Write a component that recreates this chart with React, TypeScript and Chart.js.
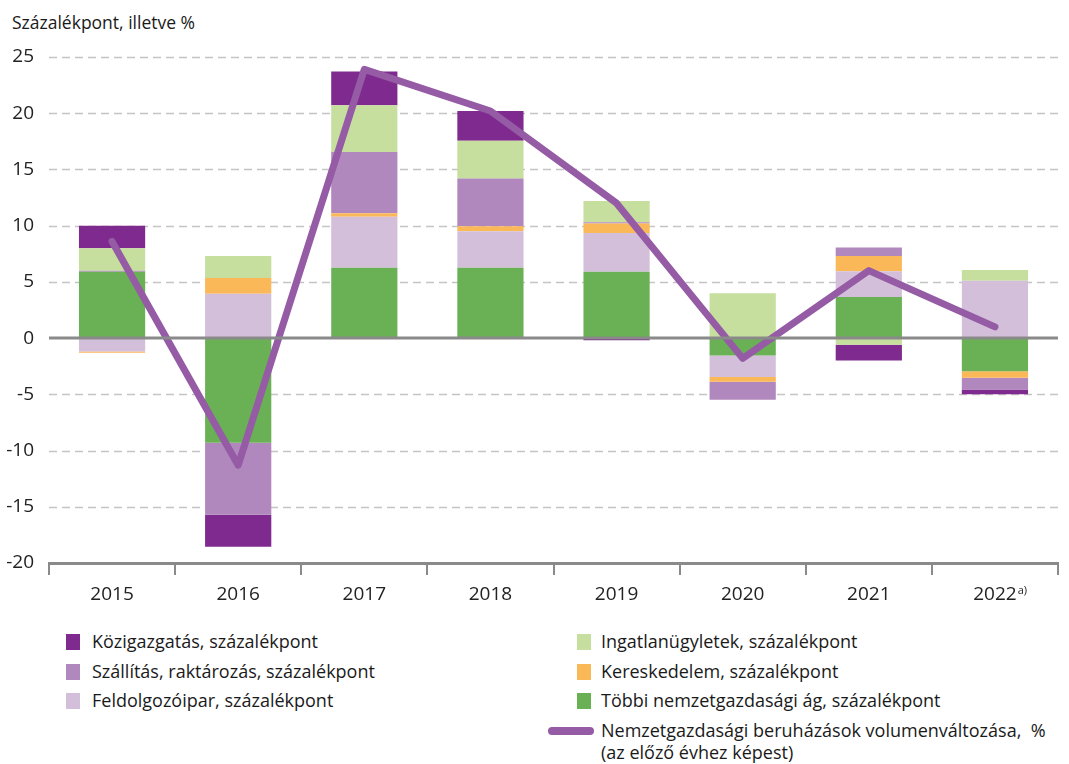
import React, { useEffect, useRef } from "react";
import { Chart, registerables } from "chart.js";
Chart.register(...registerables);

const categories = ["2015", "2016", "2017", "2018", "2019", "2020", "2021", "2022"];
const tobbi = [5.9, -9.3, 6.25, 6.25, 5.9, -1.55, 3.65, -2.95];
const feldolgozo = [-1.2, 3.95, 4.55, 3.25, 3.45, -1.9, 2.3, 5.1];
const kereskedelem = [-0.1, 1.4, 0.3, 0.45, 0.85, -0.43, 1.35, -0.57];
const szallitas = [0.1, -6.4, 5.45, 4.25, 0.1, -1.6, 0.75, -1.06];
const ingatlan = [2.0, 1.95, 4.15, 3.35, 1.9, 4.0, -0.6, 0.95];
const kozig = [2.0, -2.85, 3.0, 2.65, -0.2, 0, -1.4, -0.42];
const volumen = [8.6, -11.3, 23.9, 20.2, 12.0, -1.8, 6.0, 1.0];
const yTicks = [25, 20, 15, 10, 5, 0, -5, -10, -15, -20];

const FONT = "'Open Sans', 'Noto Sans', sans-serif";
const C_KOZIG = "#7f2a8e";
const C_SZALL = "#b088bd";
const C_FELD = "#d4bfdb";
const C_INGAT = "#c6df9e";
const C_KER = "#fbb858";
const C_TOBBI = "#6ab155";
const C_LINE = "#955ba5";
const TICK_SIZE = 19;

const gridPlugin = {
  id: "customGrid",
  beforeDatasetsDraw(chart: any) {
    const { ctx, chartArea, scales } = chart;
    const y = scales.y;
    ctx.save();
    yTicks.forEach((v) => {
      const py = Math.round(y.getPixelForValue(v)) + 0.5;
      if (v === 0 || v === -20) return;
      ctx.strokeStyle = "#c4c4c4";
      ctx.lineWidth = 1.3;
      ctx.setLineDash([8, 5]);
      ctx.beginPath();
      ctx.moveTo(chartArea.left, py);
      ctx.lineTo(chartArea.right, py);
      ctx.stroke();
    });
    ctx.restore();
  },
  afterDatasetsDraw(chart: any) {
    const { ctx, chartArea, scales } = chart;
    const y = scales.y;
    ctx.save();
    const py = y.getPixelForValue(0);
    ctx.strokeStyle = "#8a8a8a";
    ctx.lineWidth = 3;
    ctx.setLineDash([]);
    ctx.beginPath();
    ctx.moveTo(chartArea.left, py);
    ctx.lineTo(chartArea.right, py);
    ctx.stroke();
    ctx.restore();
  },
  afterDraw(chart: any) {
    const { ctx, scales } = chart;
    const x = scales.x;
    const idx = categories.length - 1;
    const cx = x.getPixelForValue(idx);
    ctx.save();
    ctx.font = `${TICK_SIZE}px ${FONT}`;
    const w = ctx.measureText(categories[idx]).width;
    ctx.font = `11px ${FONT}`;
    ctx.fillStyle = "#222";
    ctx.textBaseline = "alphabetic";
    ctx.textAlign = "left";
    ctx.fillText("a)", cx + w / 2 + 1, 594);
    ctx.restore();
  },
};

export default function App() {
  const ref = useRef<HTMLCanvasElement>(null);
  useEffect(() => {
    if (!ref.current) return;
    const mkBar = (label: string, data: number[], color: string) => ({
      type: "bar" as const,
      label,
      data,
      backgroundColor: color,
      borderWidth: 0,
      stack: "s",
      order: 1,
      barPercentage: 0.525,
      categoryPercentage: 1,
    });
    const chart = new Chart(ref.current, {
      type: "bar",
      data: {
        labels: categories,
        datasets: [
          {
            type: "line" as const,
            label: "Nemzetgazdasági beruházások volumenváltozása, %",
            data: volumen,
            borderColor: C_LINE,
            borderWidth: 7,
            pointRadius: 0,
            tension: 0,
            borderJoinStyle: "round",
            borderCapStyle: "round",
            order: 0,
          } as any,
          mkBar("Többi nemzetgazdasági ág, százalékpont", tobbi, C_TOBBI),
          mkBar("Feldolgozóipar, százalékpont", feldolgozo, C_FELD),
          mkBar("Kereskedelem, százalékpont", kereskedelem, C_KER),
          mkBar("Szállítás, raktározás, százalékpont", szallitas, C_SZALL),
          mkBar("Ingatlanügyletek, százalékpont", ingatlan, C_INGAT),
          mkBar("Közigazgatás, százalékpont", kozig, C_KOZIG),
        ],
      },
      options: {
        animation: false,
        responsive: false,
        maintainAspectRatio: false,
        layout: { padding: { top: 57, right: 11, bottom: 7, left: 0 } },
        plugins: { legend: { display: false }, tooltip: { enabled: false } },
        scales: {
          x: {
            stacked: true,
            grid: {
              offset: true,
              drawOnChartArea: false,
              drawTicks: true,
              tickLength: 12,
              color: "#8a8a8a",
              lineWidth: 2,
            },
            border: { display: true, color: "#8a8a8a", width: 3 },
            ticks: {
              color: "#222",
              font: { family: FONT, size: TICK_SIZE },
              padding: 8,
              maxRotation: 0,
            },
            afterFit: (s: any) => {
              s.height = 50;
            },
          },
          y: {
            stacked: true,
            min: -20,
            max: 25,
            grid: { display: false, drawTicks: false },
            border: { display: false },
            ticks: {
              stepSize: 5,
              color: "#222",
              font: { family: FONT, size: TICK_SIZE },
              padding: 15,
            },
            afterFit: (s: any) => {
              s.width = 49;
            },
          },
        },
      },
      plugins: [gridPlugin],
    });
    return () => chart.destroy();
  }, []);

  const text: React.CSSProperties = {
    position: "absolute",
    fontFamily: FONT,
    fontSize: 18,
    color: "#1a1a1a",
    whiteSpace: "nowrap",
    lineHeight: "22px",
  };
  const sq = (color: string, left: number, top: number) => (
    <div style={{ position: "absolute", left, top, width: 14, height: 16, background: color }} />
  );
  const leftItems: [string, string][] = [
    ["Közigazgatás, százalékpont", C_KOZIG],
    ["Szállítás, raktározás, százalékpont", C_SZALL],
    ["Feldolgozóipar, százalékpont", C_FELD],
  ];
  const rightItems: [string, string][] = [
    ["Ingatlanügyletek, százalékpont", C_INGAT],
    ["Kereskedelem, százalékpont", C_KER],
    ["Többi nemzetgazdasági ág, százalékpont", C_TOBBI],
  ];
  const rowsY = [642, 672, 701];

  return (
    <div style={{ position: "absolute", left: 0, top: 0, width: 1069, height: 764, background: "#fff", overflow: "hidden" }}>
      <div style={{ ...text, left: 12, top: 11, fontSize: 17.5 }}>Százalékpont, illetve %</div>
      <canvas ref={ref} width={1069} height={620} style={{ position: "absolute", left: 0, top: 0, width: 1069, height: 620 }} />
      {leftItems.map(([l, c], i) => (
        <React.Fragment key={l}>
          {sq(c, 66, rowsY[i] - 8)}
          <div style={{ ...text, left: 92, top: rowsY[i] - 12 }}>{l}</div>
        </React.Fragment>
      ))}
      {rightItems.map(([l, c], i) => (
        <React.Fragment key={l}>
          {sq(c, 577, rowsY[i] - 8)}
          <div style={{ ...text, left: 601, top: rowsY[i] - 12 }}>{l}</div>
        </React.Fragment>
      ))}
      <div style={{ position: "absolute", left: 548, top: 727, width: 46, height: 8, borderRadius: 4, background: C_LINE }} />
      <div style={{ ...text, left: 601, top: 719 }}>Nemzetgazdasági beruházások volumenváltozása,&nbsp; %</div>
      <div style={{ ...text, left: 601, top: 741 }}>(az előző évhez képest)</div>
    </div>
  );
}
